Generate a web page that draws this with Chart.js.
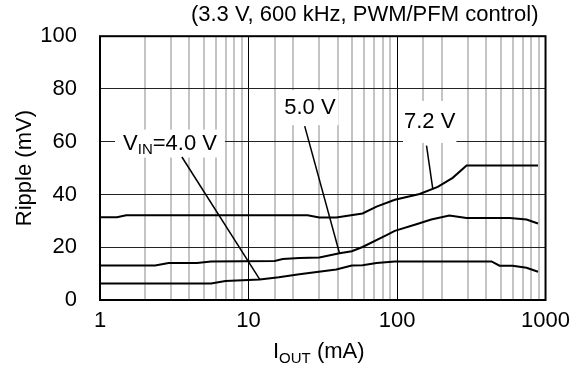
<!DOCTYPE html>
<html>
<head>
<meta charset="utf-8">
<script src="https://cdn.jsdelivr.net/npm/chart.js@4/dist/chart.umd.min.js"></script>
<style>
  body { margin: 0; background: #fff; }
  canvas { display: block; }
</style>
</head>
<body>
<canvas id="ripple" width="578" height="376"></canvas>
<script>
// output current (mA) / ripple (mV)
var iout40 = [1, 5.6, 7.0, 11.9, 16, 22, 39, 49.6, 58.6, 72.8, 96.6, 433, 490, 600, 745, 890];
var ripple40 = [6.3, 6.3, 7.2, 7.8, 8.6, 9.8, 11.6, 13.1, 13.2, 14.0, 14.6, 14.6, 13.0, 13.0, 12.2, 10.7];

var iout50 = [1, 2.35, 2.9, 4.5, 5.6, 15, 17, 22, 30, 41, 49.6, 58.6, 85, 96.6, 135, 170, 225, 294, 574, 745, 890];
var ripple50 = [13.1, 13.1, 14.0, 14.0, 14.6, 14.8, 15.5, 15.9, 16.1, 17.7, 18.5, 20.1, 24.6, 26.2, 28.7, 30.5, 32.0, 31.1, 31.1, 30.5, 29.0];

var iout72 = [1, 1.3, 1.5, 25, 30, 39, 58.6, 72.8, 96.6, 142, 188, 237, 294, 890];
var ripple72 = [31.4, 31.4, 32.1, 32.1, 31.3, 31.3, 32.8, 35.4, 38.0, 40.2, 42.9, 46.3, 51.0, 51.0];

// leader lines from the labels to the curves
var leader40 = [[3.56, 54.2], [11.9, 7.8]];
var leader50 = [[23.9, 65.9], [41, 17.7]];
var leader72 = [[158, 58.5], [174, 42.2]];

var xTickLabels = [1, 10, 100, 1000];
var yTickLabels = [0, 20, 40, 60, 80, 100];

var FAMILY = '"Liberation Sans", Arial, sans-serif';
var FS = 22;

function pts(xs, ys) {
    return xs.map(function (v, i) { return { x: v, y: ys[i] }; });
}
function pairPts(p) {
    return p.map(function (q) { return { x: q[0], y: q[1] }; });
}

// label text pieces, sub = subscript
var curveLabels = [
    { parts: [{ t: "V" }, { t: "IN", sub: true }, { t: "=4.0 V" }], at: [2.96, 59.3], padX: 8, h: 28 },
    { parts: [{ t: "5.0 V" }], at: [25.9, 72.9], padX: 3, h: 35 },
    { parts: [{ t: "7.2 V" }], at: [166, 67.5], padX: 1, h: 42 },
];

function richWidth(ctx, parts, size) {
    var w = 0;
    parts.forEach(function (p) {
        ctx.font = (p.sub ? Math.round(size * 0.68) : size) + "px " + FAMILY;
        w += ctx.measureText(p.t).width;
    });
    return w;
}
function drawRich(ctx, parts, x, y, size) {
    ctx.textBaseline = "middle";
    ctx.textAlign = "left";
    parts.forEach(function (p) {
        var s = p.sub ? Math.round(size * 0.68) : size;
        ctx.font = s + "px " + FAMILY;
        ctx.fillText(p.t, x, p.sub ? y + size * 0.3 : y);
        x += ctx.measureText(p.t).width;
    });
}

var decor = {
    id: "decor",
    beforeDatasetsDraw: function (chart) {
        var ctx = chart.ctx, xs = chart.scales.x, ys = chart.scales.y;
        ctx.save();
        curveLabels.forEach(function (l) {
            var cx = xs.getPixelForValue(l.at[0]);
            var cy = ys.getPixelForValue(l.at[1]);
            var w = richWidth(ctx, l.parts, FS);
            ctx.fillStyle = "#fff";
            ctx.fillRect(cx - w / 2 - l.padX, cy - l.h / 2, w + 2 * l.padX, l.h);
            ctx.fillStyle = "#000";
            drawRich(ctx, l.parts, cx - w / 2, cy, FS);
        });
        ctx.restore();
    },
    afterDatasetsDraw: function (chart) {
        var ctx = chart.ctx, a = chart.chartArea;
        ctx.save();
        ctx.strokeStyle = "#000";
        ctx.lineWidth = 2;
        ctx.strokeRect(a.left, a.top, a.right - a.left, a.bottom - a.top);

        ctx.fillStyle = "#000";
        ctx.font = FS + "px " + FAMILY;
        ctx.textAlign = "right";
        ctx.textBaseline = "middle";
        ctx.fillText("(3.3 V, 600 kHz, PWM/PFM control)", a.right - 7, 15);

        // y title
        ctx.save();
        ctx.translate(25, (a.top + a.bottom) / 2);
        ctx.rotate(-Math.PI / 2);
        ctx.textAlign = "center";
        ctx.fillText("Ripple (mV)", 0, 0);
        ctx.restore();

        // x title with subscript
        var parts = [{ t: "I" }, { t: "OUT", sub: true }, { t: " (mA)" }];
        var w = richWidth(ctx, parts, FS);
        drawRich(ctx, parts, (a.left + a.right) / 2 - 4 - w / 2, 352, FS);
        ctx.restore();
    },
};

function isDecade(v) {
    var l = Math.log10(v);
    return Math.abs(l - Math.round(l)) < 1e-9;
}

var curve = { borderColor: "#000", borderWidth: 2, pointRadius: 0, fill: false, tension: 0 };
var lead = { borderColor: "#000", borderWidth: 1.5, pointRadius: 0, fill: false, tension: 0 };

new Chart(document.getElementById("ripple"), {
    type: "line",
    data: {
        datasets: [
            Object.assign({ label: "4.0 V", data: pts(iout40, ripple40) }, curve),
            Object.assign({ label: "5.0 V", data: pts(iout50, ripple50) }, curve),
            Object.assign({ label: "7.2 V", data: pts(iout72, ripple72) }, curve),
            Object.assign({ label: "l40", data: pairPts(leader40) }, lead),
            Object.assign({ label: "l50", data: pairPts(leader50) }, lead),
            Object.assign({ label: "l72", data: pairPts(leader72) }, lead),
        ],
    },
    options: {
        responsive: false,
        animation: false,
        layout: { padding: { top: 27, right: 32, left: 0, bottom: 0 } },
        plugins: { legend: { display: false }, tooltip: { enabled: false } },
        scales: {
            x: {
                type: "logarithmic",
                min: 1,
                max: 1000,
                afterFit: function (s) { s.height = 76; },
                grid: {
                    drawTicks: false,
                    color: function (c) { return c.tick && isDecade(c.tick.value) ? "#000" : "#c4c4c4"; },
                    lineWidth: function (c) { return c.tick && isDecade(c.tick.value) ? 1 : 2; },
                },
                border: { display: false },
                ticks: {
                    autoSkip: false,
                    maxRotation: 0,
                    padding: 8,
                    color: "#000",
                    font: { family: FAMILY, size: FS },
                    callback: function (v) { return xTickLabels.indexOf(v) >= 0 ? String(v) : ""; },
                },
            },
            y: {
                min: 0,
                max: 100,
                afterFit: function (s) { s.width = 100; },
                grid: { drawTicks: false, color: "#222", lineWidth: 1 },
                border: { display: false },
                ticks: {
                    stepSize: 10,
                    padding: 23,
                    color: "#000",
                    font: { family: FAMILY, size: FS },
                    callback: function (v) { return yTickLabels.indexOf(v) >= 0 ? String(v) : ""; },
                },
            },
        },
    },
    plugins: [decor],
});
</script>
</body>
</html>
